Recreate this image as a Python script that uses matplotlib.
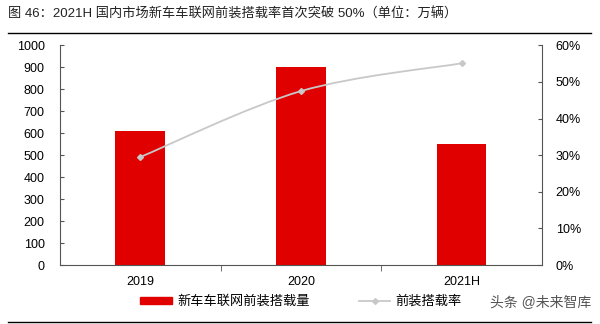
import numpy as np
import matplotlib
matplotlib.use('Agg')
import matplotlib.pyplot as plt
from matplotlib.path import Path
from matplotlib.patches import PathPatch
from matplotlib.lines import Line2D

plt.rcParams['font.family'] = ['Liberation Sans', 'Noto Sans CJK SC']

years = ['2019', '2020', '2021H']
volume = [612, 903, 551]          # 万辆
rate = [29.5, 47.5, 55.1]         # %

bar_color = '#e00000'
line_color = '#c8c8c8'

fig = plt.figure(figsize=(6, 3.24), dpi=100)
ax = fig.add_axes([0.1, 0.182, 0.803, 0.678])
x = np.arange(len(years))
ax.bar(x, volume, width=0.31, color=bar_color, zorder=2)
ax.set_xlim(-0.5, 2.5)
ax.set_ylim(0, 1000)
ax.set_yticks(range(0, 1001, 100))
ax.set_xticks(x)
ax.set_xticklabels(years)
ax.set_xticks([0.5, 1.5], minor=True)
ax.tick_params(axis='x', which='major', length=0, pad=8, labelsize=9)
ax.tick_params(axis='x', which='minor', length=4, direction='out', color='#555555')
ax.tick_params(axis='y', length=3, direction='in', labelsize=9, color='#555555', pad=11)
for s in ['top', 'right']:
    ax.spines[s].set_visible(False)
for s in ['left', 'bottom']:
    ax.spines[s].set_color('#555555')

ax2 = ax.twinx()
ax2.set_ylim(0, 60)
ax2.set_yticks(range(0, 61, 10))
ax2.set_yticklabels([f'{v}%' for v in range(0, 61, 10)])
ax2.tick_params(axis='y', length=3, direction='in', labelsize=9, color='#555555', pad=10)
for s in ['top', 'left', 'bottom']:
    ax2.spines[s].set_visible(False)
ax2.spines['right'].set_color('#555555')

# smooth curve through the rate points (bezier, like the excel smoothed line)
pts = np.column_stack([x, rate]).astype(float)
verts = [tuple(pts[0])]
codes = [Path.MOVETO]
for i in range(len(pts) - 1):
    p0 = pts[i - 1] if i > 0 else pts[i]
    p1 = pts[i]
    p2 = pts[i + 1]
    p3 = pts[i + 2] if i + 2 < len(pts) else pts[i + 1]
    c1 = p1 + (p2 - p0) / 6
    c2 = p2 - (p3 - p1) / 6
    verts += [tuple(c1), tuple(c2), tuple(p2)]
    codes += [Path.CURVE4] * 3
ax2.add_patch(PathPatch(Path(verts, codes), fill=False, edgecolor=line_color, lw=1.3, zorder=3))
ax2.plot(x, rate, ls='none', marker='D', ms=3, color=line_color, zorder=4)

fig.text(0.013, 0.955, '图 46：2021H 国内市场新车车联网前装搭载率首次突破 50%（单位：万辆）',
         fontsize=9.5, va='center', ha='left', color='#222222')
fig.add_artist(Line2D([0.013, 0.985], [0.898, 0.898], color='black', lw=1))
fig.add_artist(Line2D([0.013, 0.985], [0.006, 0.006], color='black', lw=1))

handles = [plt.Rectangle((0, 0), 1, 1, color=bar_color),
           Line2D([0], [0], color=line_color, lw=1.3, marker='D', ms=3)]
fig.legend(handles, ['新车车联网前装搭载量', '前装搭载率'], loc='center',
           bbox_to_anchor=(0.502, 0.068), ncol=2, frameon=False, fontsize=9.5,
           handlelength=2.4, handleheight=0.5, handletextpad=0.4, columnspacing=3.7)
fig.text(0.985, 0.065, '头条 @未来智库', fontsize=10, color='#555555', ha='right', va='center')

fig.savefig('out.png', dpi=100)
